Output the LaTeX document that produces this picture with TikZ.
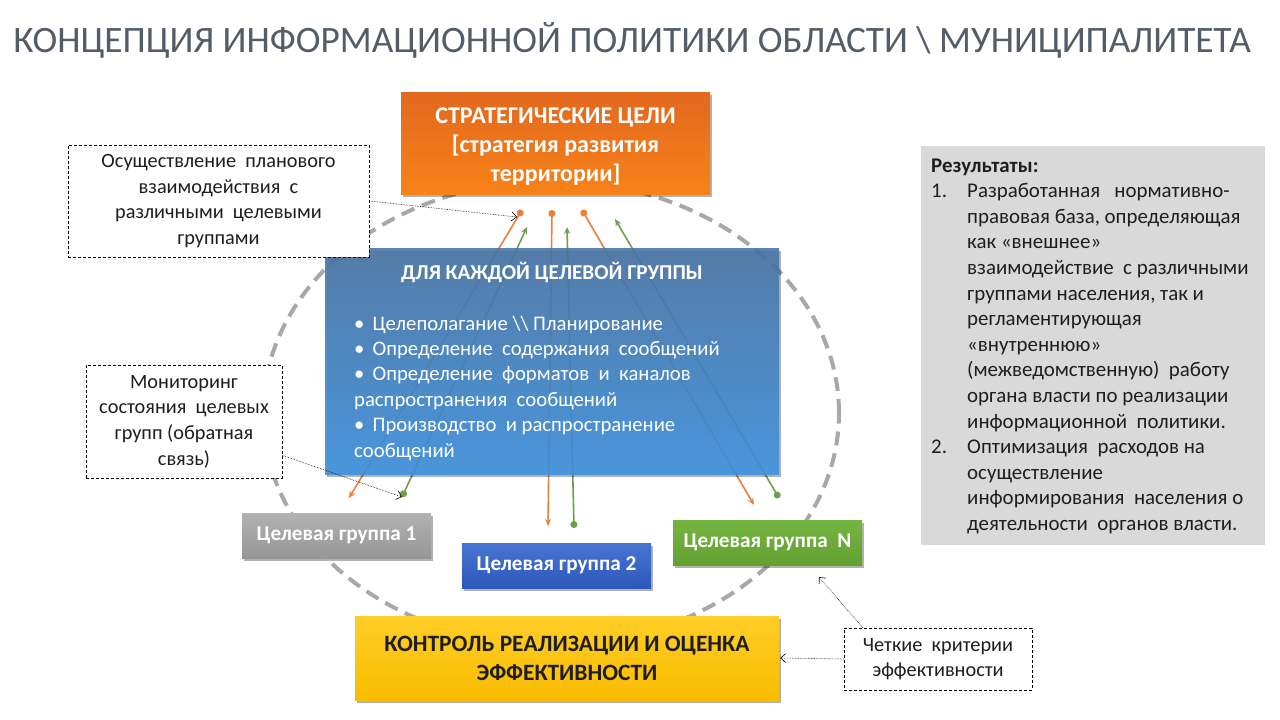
\documentclass[tikz,border=0pt]{standalone}
\usepackage{fontspec}
\setmainfont{Carlito}
\usetikzlibrary{arrows.meta,shadows}
\definecolor{titlegray}{RGB}{84,92,104}
\definecolor{txt}{RGB}{30,30,30}
\definecolor{orgtop}{RGB}{226,104,30}
\definecolor{orgbot}{RGB}{248,130,24}
\definecolor{bluetop}{RGB}{74,118,166}
\definecolor{bluebot}{RGB}{62,146,224}
\definecolor{graytop}{RGB}{178,178,178}
\definecolor{graybot}{RGB}{150,150,150}
\definecolor{b2top}{RGB}{72,116,210}
\definecolor{b2bot}{RGB}{44,88,186}
\definecolor{grtop}{RGB}{118,180,66}
\definecolor{grbot}{RGB}{98,160,48}
\definecolor{yeltop}{RGB}{255,206,40}
\definecolor{yelbot}{RGB}{250,188,0}
\definecolor{resgray}{RGB}{217,217,217}
\definecolor{arrorange}{RGB}{232,128,60}
\definecolor{arrgreen}{RGB}{108,160,76}
\definecolor{circgray}{RGB}{168,168,168}
\newcommand{\fsz}[2]{\fontsize{#1}{#2}\selectfont}
\newcommand{\dsp}{\ \ }
\tikzset{
  shad/.style={drop shadow={shadow xshift=2pt,shadow yshift=-3pt,opacity=0.3,fill=black}},
  boxbase/.style={inner sep=0pt,align=center,shad},
  callout/.style={draw=black,densely dashed,line width=0.6pt,fill=white,inner sep=0pt,align=center,text=txt,font=\fsz{20.3}{25.6}},
  oarr/.style={draw=arrorange,line width=1.6pt,{Circle[length=7pt]}-{Stealth[length=7pt,width=6pt]}},
  garr/.style={draw=arrgreen,line width=1.6pt,{Circle[length=7pt]}-{Stealth[length=7pt,width=6pt]}},
  carr/.style={draw=black,densely dotted,line width=0.6pt,-{Straight Barb[length=5pt,width=9pt]}},
  grpbox/.style={boxbase,minimum width=189pt,minimum height=45pt,text=white,font=\bfseries\fsz{21.2}{24}},
}
\begin{document}
\begin{tikzpicture}[x=1pt,y=-1pt]
\useasboundingbox (0,0) rectangle (1280,720);
\fill[white] (0,0) rectangle (1280,720);

% title
\node[text=titlegray,font=\fsz{37.3}{42},inner sep=0pt] (title) at (632,40) {КОНЦЕПЦИЯ ИНФОРМАЦИОННОЙ ПОЛИТИКИ ОБЛАСТИ \textbackslash\ МУНИЦИПАЛИТЕТА};

% dashed ellipse
\draw[circgray,line width=4pt,dash pattern=on 14pt off 8pt] (551,413) ellipse [x radius=288pt, y radius=232pt];

% arrow endpoints
\coordinate (o1t) at (522,210); \coordinate (o1b) at (349,498);
\coordinate (o2t) at (552,210); \coordinate (o2b) at (548,526);
\coordinate (o3t) at (582,210); \coordinate (o3b) at (754,505);
\coordinate (g1b) at (402,497); \coordinate (g1t) at (527,227);
\coordinate (g2b) at (574,528); \coordinate (g2t) at (567,227);
\coordinate (g3b) at (779,498); \coordinate (g3t) at (615,219);
\draw[oarr] (o1t) -- (o1b);
\draw[oarr] (o2t) -- (o2b);
\draw[oarr] (o3t) -- (o3b);
\draw[garr] (g1b) -- (g1t);
\draw[garr] (g2b) -- (g2t);
\draw[garr] (g3b) -- (g3t);

% strategic goals
\node[boxbase,top color=orgtop,bottom color=orgbot,minimum width=309pt,minimum height=102pt,text=white,font=\bfseries\fsz{24}{29}] (goal) at (555.5,143) {\begin{tabular}{@{}c@{}}\rule{0pt}{28.3pt}СТРАТЕГИЧЕСКИЕ ЦЕЛИ\\{[}стратегия развития\\территории{]}\end{tabular}};

% blue box
\node[boxbase,top color=bluetop,bottom color=bluebot,fill opacity=0.9,minimum width=454pt,minimum height=226pt] (each) at (552,361) {};
\node[text=white,font=\bfseries\fsz{21.2}{24},inner sep=0pt] (eachtitle) at (552,272) {ДЛЯ КАЖДОЙ ЦЕЛЕВОЙ ГРУППЫ};
\node[text=white,font=\fsz{20.7}{25.4},inner sep=0pt,align=left,anchor=north west] (eachlist) at (354,312.2)
{\strut•\ \,Целеполагание \textbackslash\textbackslash\ Планирование\\
•\ \,Определение\dsp содержания\dsp сообщений\\
•\ \,Определение\dsp форматов\dsp и\dsp каналов\\
распространения\dsp сообщений\\
•\ \,Производство\dsp и распространение\\
сообщений};

% groups
\node[grpbox,top color=graytop,bottom color=graybot] (grp1) at (336.5,535.5) {Целевая группа 1};
\node[grpbox,top color=b2top,bottom color=b2bot] (grp2) at (556.5,565.5) {Целевая группа 2};
\node[grpbox,top color=grtop,bottom color=grbot] (grpN) at (767.5,542.5) {Целевая группа\dsp N};

% control
\node[boxbase,top color=yeltop,bottom color=yelbot,minimum width=424pt,minimum height=84pt,text=txt,font=\bfseries\fsz{23.4}{29}] (ctrl) at (567,658) {КОНТРОЛЬ РЕАЛИЗАЦИИ И ОЦЕНКА\\ЭФФЕКТИВНОСТИ};

% results
\node[fill=resgray,minimum width=344pt,minimum height=399pt,inner sep=0pt,anchor=north west] (res) at (921,146) {};
\node[inner sep=0pt,anchor=north west,text=txt,font=\fsz{20.9}{25.6}] (restext) at (931,154) {%
\begin{tabular}{@{}p{36pt}@{}l@{}}
\multicolumn{2}{@{}l@{}}{\textbf{Результаты:}}\\
1. & Разработанная\dsp\ нормативно-\\
 & правовая база, определяющая\\
 & как «внешнее»\\
 & взаимодействие\dsp с различными\\
 & группами населения, так и\\
 & регламентирующая\\
 & «внутреннюю»\\
 & (межведомственную)\dsp работу\\
 & органа власти по реализации\\
 & информационной\dsp политики.\\
2. & Оптимизация\dsp расходов на\\
 & осуществление\\
 & информирования\dsp населения о\\
 & деятельности\dsp органов власти.
\end{tabular}};

% callouts
\node[callout,minimum width=301pt,minimum height=112pt] (c1) at (218.5,201) {Осуществление\dsp планового\\взаимодействия\dsp с\\различными\dsp целевыми\\группами};
\node[callout,minimum width=196pt,minimum height=113pt] (c2) at (184,421.5) {Мониторинг\\состояния\dsp целевых\\групп (обратная\\связь)};
\node[callout,minimum width=188pt,minimum height=62pt] (c3) at (938,659) {Четкие\dsp критерии\\эффективности};

\coordinate (c1end) at (517,217);
\coordinate (c3end) at (819,577);
\draw[carr] (c1.east) -- (c1end);
\draw[carr] ([yshift=23pt]c2.south east) -- (g1b);
\draw[carr] ([xshift=19pt]c3.north west) -- (c3end);
\draw[carr] (c3.west) -- ([xshift=1pt]ctrl.east);
\end{tikzpicture}
\end{document}
